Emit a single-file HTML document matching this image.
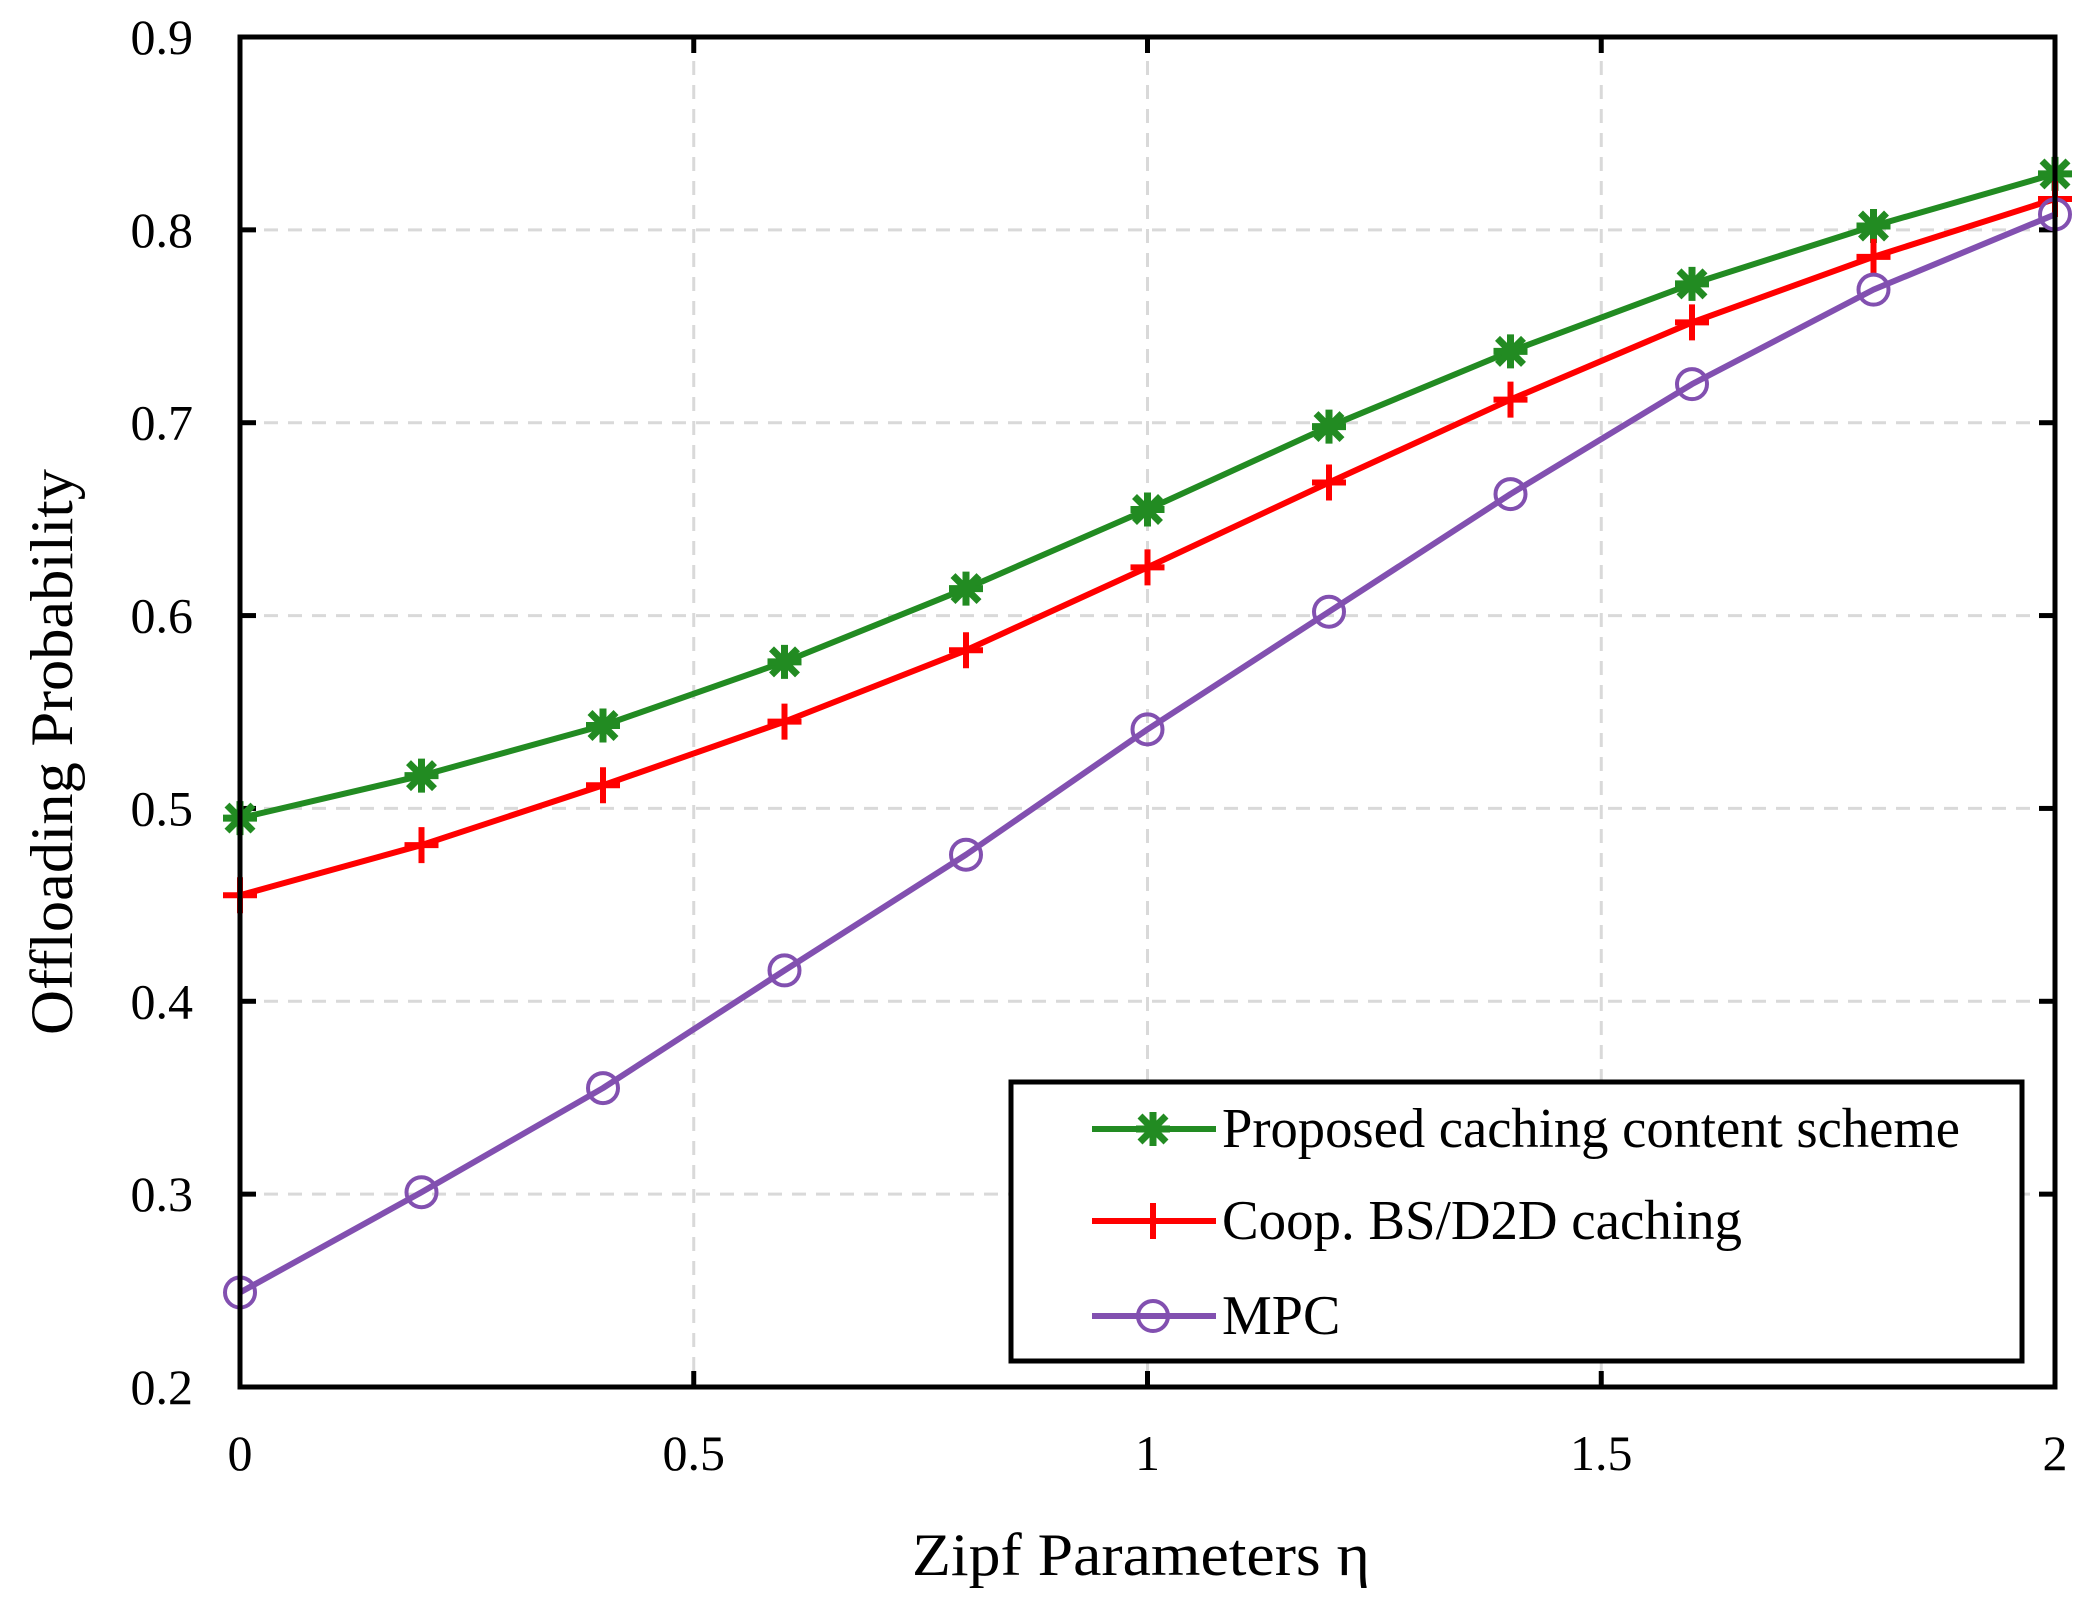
<!DOCTYPE html>
<html><head><meta charset="utf-8"><style>
html,body{margin:0;padding:0;background:#fff}
svg{display:block;font-family:"Liberation Serif",serif}
</style></head><body>
<svg id="s" width="2088" height="1619" viewBox="0 0 2088 1619" xmlns="http://www.w3.org/2000/svg">
<rect width="2088" height="1619" fill="#fff"/>
<g id="grid" stroke="#d9d9d9" stroke-width="3" stroke-dasharray="14,10"></g>
<g id="ticks" stroke="#000" stroke-width="5"></g>
<g id="labels" font-size="50" fill="#000"></g>
<g id="series"></g>
<rect x="240" y="37" width="1815" height="1350" fill="none" stroke="#000" stroke-width="5"/>
<rect x="1011" y="1082" width="1011" height="279" fill="#fff" stroke="#000" stroke-width="5"/>
<g id="leg"></g>
<text x="1141" y="1575" font-size="60" text-anchor="middle" textLength="458" lengthAdjust="spacingAndGlyphs">Zipf Parameters η</text>
<text transform="translate(72,752) rotate(-90)" font-size="60" text-anchor="middle" textLength="566" lengthAdjust="spacingAndGlyphs">Offloading Probability</text>
</svg>
<script>
var L=240,R=2055,T=37,B=1387,ns="http://www.w3.org/2000/svg";
function X(v){return L+(R-L)*v/2}
function Y(v){return B-(B-T)*(v-0.2)/0.7}
function el(p,t,a,txt){var e=document.createElementNS(ns,t);for(var k in a)e.setAttribute(k,a[k]);if(txt)e.textContent=txt;document.getElementById(p).appendChild(e);return e}
var xt=[0,0.5,1,1.5,2],xl=["0","0.5","1","1.5","2"];
for(var i=0;i<5;i++){var x=X(xt[i]);
 if(i>0&&i<4)el("grid","line",{x1:x,y1:T,x2:x,y2:B});
 el("ticks","line",{x1:x,y1:B,x2:x,y2:B-16});el("ticks","line",{x1:x,y1:T,x2:x,y2:T+16});
 el("labels","text",{x:x,y:1470,"text-anchor":"middle"},xl[i]);}
for(var j=2;j<=9;j++){var y=Y(j/10);
 if(j>2&&j<9)el("grid","line",{x1:L,y1:y,x2:R,y2:y});
 el("ticks","line",{x1:L,y1:y,x2:L+16,y2:y});el("ticks","line",{x1:R,y1:y,x2:R-16,y2:y});
 el("labels","text",{x:193,y:y+17,"text-anchor":"end"},"0."+j);}
var S=[
 {c:"#228b22",m:"star",d:[0.495,0.517,0.543,0.576,0.614,0.655,0.698,0.737,0.772,0.802,0.829]},
 {c:"#ff0000",m:"plus",d:[0.455,0.481,0.512,0.545,0.582,0.625,0.669,0.712,0.752,0.786,0.816]},
 {c:"#8250b0",m:"circ",d:[0.249,0.301,0.355,0.416,0.476,0.541,0.602,0.663,0.720,0.769,0.808]}];
function marker(p,m,c,x,y){
 if(m=="circ")el(p,"circle",{cx:x,cy:y,r:15,fill:"none",stroke:c,"stroke-width":4});
 else if(m=="plus"){el(p,"path",{d:"M"+(x-17)+" "+y+"H"+(x+17)+"M"+x+" "+(y-18)+"V"+(y+18),stroke:c,"stroke-width":6});}
 else{el(p,"path",{d:"M"+(x-17)+" "+y+"H"+(x+17)+"M"+x+" "+(y-17)+"V"+(y+17)+"M"+(x-13)+" "+(y-13)+"L"+(x+13)+" "+(y+13)+"M"+(x-13)+" "+(y+13)+"L"+(x+13)+" "+(y-13),stroke:c,"stroke-width":7});}
}
S.forEach(function(s){
 var pts=s.d.map(function(v,i){return X(i*0.2)+","+Y(v)}).join(" ");
 el("series","polyline",{points:pts,fill:"none",stroke:s.c,"stroke-width":6,"stroke-linejoin":"round"});
 s.d.forEach(function(v,i){marker("series",s.m,s.c,X(i*0.2),Y(v))});
});
var names=["Proposed caching content scheme","Coop. BS/D2D caching","MPC"],ly=[1129,1221,1316],lw=[738,520,0];
S.forEach(function(s,i){
 el("leg","line",{x1:1092,y1:ly[i],x2:1216,y2:ly[i],stroke:s.c,"stroke-width":6});
 marker("leg",s.m,s.c,1153,ly[i]);
 var a={x:1222,y:ly[i]+18,"font-size":56};
 if(lw[i]){a.textLength=lw[i];a.lengthAdjust="spacingAndGlyphs";}
 el("leg","text",a,names[i]);
});
</script>
</body></html>
